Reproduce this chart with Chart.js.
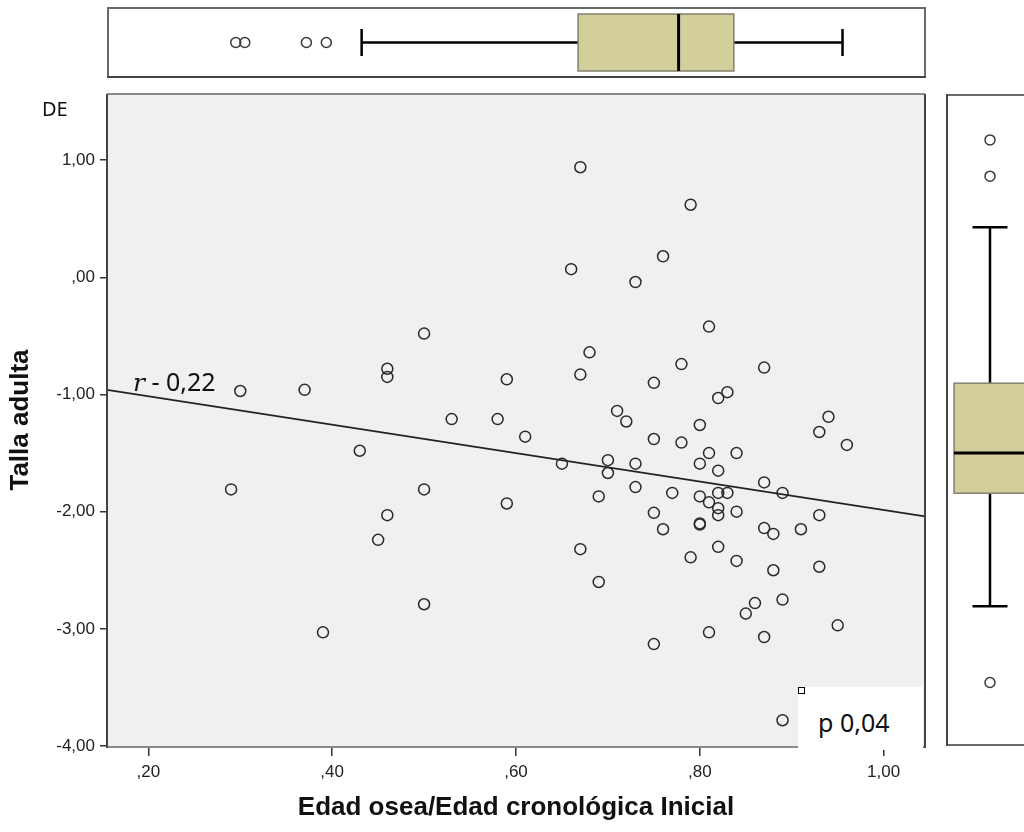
<!DOCTYPE html>
<html>
<head>
<meta charset="utf-8">
<script src="https://cdn.jsdelivr.net/npm/chart.js@4.4.1/dist/chart.umd.min.js"></script>
<style>
  body { margin: 0; background: #fff; }
  #wrap { position: relative; width: 1024px; height: 832px; overflow: hidden; }
  canvas { position: absolute; }
  #main { left: 0; top: 0; }
  #topBox { left: 107px; top: 7px; }
  #sideBox { left: 946px; top: 94px; }
  .txt { position: absolute; line-height: 1; white-space: nowrap; color: #111; }
  #de { left: 42px; top: 95px; font: 20px "Noto Sans", sans-serif; }
  #rlab { left: 133px; top: 364px; font: 25px "Noto Sans", sans-serif; }
  #rlab i { font-family: "DejaVu Serif", serif; }
  #pbox { position: absolute; left: 798px; top: 687px; width: 125px; height: 63px; background: #fff; }
  #pbox .handle { position: absolute; left: 0; top: 0; width: 5px; height: 5px; border: 1.5px solid #000; background: #fff; }
  #plab { left: 20px; top: 18px; font: 25px "Noto Sans", sans-serif; }
</style>
</head>
<body>
<div id="wrap">
  <canvas id="main" width="1024" height="832"></canvas>
  <canvas id="topBox" width="819" height="71"></canvas>
  <canvas id="sideBox" width="88" height="652"></canvas>
  <div class="txt" id="de">DE</div>
  <div class="txt" id="rlab"><i>r</i> - 0,22</div>
  <div id="pbox"><div class="handle"></div><div class="txt" id="plab">p 0,04</div></div>
</div>
<script>
// Edad osea / Edad cronologica inicial
const edadRatio = [
  0.29, 0.30, 0.37, 0.39, 0.43, 0.45, 0.46, 0.46, 0.46, 0.50, 0.50, 0.50,
  0.53, 0.58, 0.59, 0.59, 0.61, 0.65, 0.66, 0.67, 0.67, 0.67, 0.68, 0.69,
  0.69, 0.70, 0.70, 0.71, 0.72, 0.73, 0.73, 0.73, 0.75, 0.75, 0.75, 0.75,
  0.76, 0.76, 0.77, 0.78, 0.78, 0.79, 0.79, 0.80, 0.80, 0.80, 0.80, 0.80,
  0.81, 0.81, 0.81, 0.81, 0.82, 0.82, 0.82, 0.82, 0.82, 0.82, 0.83, 0.83,
  0.84, 0.84, 0.84, 0.85, 0.86, 0.87, 0.87, 0.87, 0.87, 0.88, 0.88, 0.89,
  0.89, 0.89, 0.91, 0.93, 0.93, 0.93, 0.94, 0.95, 0.96
];
// Talla adulta (DE)
const tallaDE = [
  -1.81, -0.97, -0.96, -3.03, -1.48, -2.24, -0.78, -0.85, -2.03, -0.48, -1.81, -2.79,
  -1.21, -1.21, -0.87, -1.93, -1.36, -1.59, 0.07, 0.94, -0.83, -2.32, -0.64, -1.87,
  -2.60, -1.56, -1.67, -1.14, -1.23, -0.04, -1.59, -1.79, -0.90, -1.38, -2.01, -3.13,
  0.18, -2.15, -1.84, -0.74, -1.41, 0.62, -2.39, -1.26, -1.59, -1.87, -2.10, -2.11,
  -0.42, -1.50, -1.92, -3.03, -1.03, -1.65, -1.84, -1.97, -2.03, -2.30, -0.98, -1.84,
  -1.50, -2.00, -2.42, -2.87, -2.78, -0.77, -1.75, -2.14, -3.07, -2.19, -2.50, -1.84,
  -2.75, -3.78, -2.15, -1.32, -2.03, -2.47, -1.19, -2.97, -1.43
];
// fitted line, ends of the x range
const fitX = [0.155, 1.045];
const fitY = [-0.96, -2.04];

const xTickValues = [0.2, 0.4, 0.6, 0.8, 1.0];
const xTickLabels = [",20", ",40", ",60", ",80", "1,00"];
const yTickValues = [-4, -3, -2, -1, 0, 1];
const yTickLabels = ["-4,00", "-3,00", "-2,00", "-1,00", ",00", "1,00"];

// boxplots: [low whisker, Q1, median, Q3, high whisker]
const edadBox = [0.429, 0.668, 0.779, 0.840, 0.960];
const edadOutliers = [0.29, 0.30, 0.368, 0.39];
const tallaBox = [-2.84, -1.855, -1.504, -0.897, 0.462];
const tallaOutliers = [1.222, 0.906, -3.504];

const X_MIN = 0.155, X_MAX = 1.045, Y_MIN = -4.0, Y_MAX = 1.565;
const BOX_FILL = "#d3cf9a";
const tickFont = { family: "Liberation Sans, Arial, sans-serif", size: 17 };
const titleFont = { family: "Liberation Sans, Arial, sans-serif", size: 26, weight: "bold" };

// grey plot area with the SPSS style frame
const plotFrame = {
  id: "plotFrame",
  beforeDatasetsDraw(chart) {
    const { ctx, chartArea: a } = chart;
    ctx.save();
    ctx.fillStyle = "#f0f0f0";
    ctx.fillRect(a.left, a.top, a.right - a.left, a.bottom - a.top);
    ctx.restore();
  },
  afterDraw(chart) {
    const { ctx, chartArea: a } = chart;
    ctx.save();
    ctx.lineWidth = 2;
    ctx.strokeStyle = "#8a8a8a";
    ctx.beginPath();
    ctx.moveTo(a.left, a.top); ctx.lineTo(a.right, a.top);
    ctx.moveTo(a.left, a.bottom + 1); ctx.lineTo(a.right, a.bottom + 1);
    ctx.stroke();
    ctx.strokeStyle = "#444";
    ctx.beginPath();
    ctx.moveTo(a.left, a.top); ctx.lineTo(a.left, a.bottom + 2);
    ctx.moveTo(a.right, a.top); ctx.lineTo(a.right, a.bottom + 2);
    ctx.stroke();
    ctx.restore();
  }
};

// box, whiskers and median drawn on the chart's own value scale
const boxPlot = {
  id: "boxPlot",
  beforeDatasetsDraw(chart, args, opts) {
    const { ctx } = chart;
    const horiz = opts.horizontal;
    const scale = horiz ? chart.scales.x : chart.scales.y;
    const cross = horiz ? chart.scales.y.getPixelForValue(0) : chart.scales.x.getPixelForValue(0);
    const [lo, q1, med, q3, hi] = opts.stats.map(v => scale.getPixelForValue(v));
    const line = (x1, y1, x2, y2) => {
      ctx.beginPath();
      if (horiz) { ctx.moveTo(x1, y1); ctx.lineTo(x2, y2); }
      else { ctx.moveTo(y1, x1); ctx.lineTo(y2, x2); }
      ctx.stroke();
    };
    ctx.save();
    // frame
    ctx.fillStyle = "#fff";
    ctx.fillRect(0, 0, chart.width, chart.height);
    ctx.strokeStyle = "#6a6a6a";
    ctx.lineWidth = 2;
    ctx.strokeRect(1, 1, chart.width - 2, chart.height - 2);
    ctx.strokeStyle = "#444";
    ctx.beginPath();
    if (horiz) { ctx.moveTo(0, chart.height - 1); ctx.lineTo(chart.width, chart.height - 1); }
    else { ctx.moveTo(1, 0); ctx.lineTo(1, chart.height); }
    ctx.stroke();
    // whiskers
    ctx.strokeStyle = "#000";
    ctx.lineWidth = 2.5;
    line(lo, cross, q1, cross);
    line(q3, cross, hi, cross);
    line(lo, cross - opts.cap, lo, cross + opts.cap);
    line(hi, cross - opts.cap, hi, cross + opts.cap);
    // box
    ctx.fillStyle = BOX_FILL;
    ctx.strokeStyle = "#808070";
    ctx.lineWidth = 1.5;
    if (horiz) {
      ctx.fillRect(q1, cross - opts.half, q3 - q1, opts.half * 2);
      ctx.strokeRect(q1, cross - opts.half, q3 - q1, opts.half * 2);
    } else {
      ctx.fillRect(cross - opts.half, q3, opts.half * 2, q1 - q3);
      ctx.strokeRect(cross - opts.half, q3, opts.half * 2, q1 - q3);
    }
    ctx.strokeStyle = "#000";
    ctx.lineWidth = 3;
    line(med, cross - opts.half, med, cross + opts.half);
    ctx.restore();
  }
};

const outlierStyle = {
  pointRadius: 5,
  pointBorderWidth: 1.5,
  borderColor: "#3a3a3a",
  backgroundColor: "rgba(0,0,0,0)"
};

// main scatter
new Chart(document.getElementById("main"), {
  type: "scatter",
  data: {
    datasets: [
      {
        type: "line",
        data: fitX.map((x, i) => ({ x: x, y: fitY[i] })),
        borderColor: "#222",
        borderWidth: 1.6,
        pointRadius: 0,
        fill: false
      },
      {
        data: edadRatio.map((x, i) => ({ x: x, y: tallaDE[i] })),
        pointRadius: 5.5,
        pointBorderWidth: 1.5,
        borderColor: "#2a2a2a",
        backgroundColor: "rgba(0,0,0,0)"
      }
    ]
  },
  options: {
    responsive: false,
    animation: false,
    layout: { padding: { top: 94, right: 99, left: 0, bottom: 0 } },
    plugins: { legend: { display: false }, tooltip: { enabled: false } },
    scales: {
      x: {
        type: "linear",
        min: X_MIN,
        max: X_MAX,
        afterBuildTicks: (s) => { s.ticks = xTickValues.map(v => ({ value: v })); },
        afterFit: (s) => { s.height = 86; },
        ticks: { callback: (v, i) => xTickLabels[i], font: tickFont, color: "#222", padding: 6, maxRotation: 0 },
        grid: { drawOnChartArea: false, tickLength: 10, color: "#333", lineWidth: 1.5 },
        border: { display: false },
        title: { display: true, text: "Edad osea/Edad cronológica Inicial", font: titleFont, color: "#111", padding: { top: 0, bottom: 9 } }
      },
      y: {
        type: "linear",
        min: Y_MIN,
        max: Y_MAX,
        afterBuildTicks: (s) => { s.ticks = yTickValues.map(v => ({ value: v })); },
        afterFit: (s) => { s.width = 107; },
        ticks: { callback: (v, i) => yTickLabels[i], font: tickFont, color: "#222", padding: 5 },
        grid: { drawOnChartArea: false, tickLength: 7, color: "#333", lineWidth: 1.5 },
        border: { display: false },
        title: { display: true, text: "Talla adulta", font: titleFont, color: "#111", padding: { top: 5, bottom: 0 } }
      }
    }
  },
  plugins: [plotFrame]
});

// boxplot above the scatter (edad ratio)
new Chart(document.getElementById("topBox"), {
  type: "scatter",
  data: { datasets: [Object.assign({ data: edadOutliers.map(v => ({ x: v, y: 0 })) }, outlierStyle)] },
  options: {
    responsive: false,
    animation: false,
    layout: { padding: 0 },
    plugins: { legend: { display: false }, tooltip: { enabled: false },
      boxPlot: { stats: edadBox, horizontal: true, half: 28.5, cap: 13.5 } },
    scales: {
      x: { type: "linear", min: X_MIN, max: X_MAX, display: false },
      y: { type: "linear", min: -1, max: 1, display: false }
    }
  },
  plugins: [boxPlot]
});

// boxplot to the right (talla adulta)
new Chart(document.getElementById("sideBox"), {
  type: "scatter",
  data: { datasets: [Object.assign({ data: tallaOutliers.map(v => ({ x: 0, y: v })) }, outlierStyle)] },
  options: {
    responsive: false,
    animation: false,
    layout: { padding: 0 },
    plugins: { legend: { display: false }, tooltip: { enabled: false },
      boxPlot: { stats: tallaBox, horizontal: false, half: 36, cap: 17.5 } },
    scales: {
      x: { type: "linear", min: -1, max: 1, display: false },
      y: { type: "linear", min: Y_MIN, max: Y_MAX, display: false }
    }
  },
  plugins: [boxPlot]
});
</script>
</body>
</html>
